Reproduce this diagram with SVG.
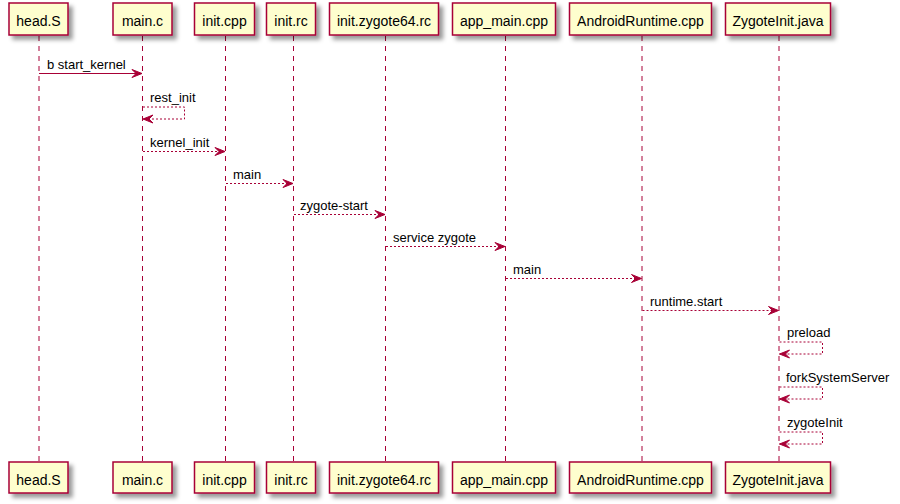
<svg xmlns="http://www.w3.org/2000/svg" width="900" height="504" viewBox="0 0 900 504">
<defs>
<filter id="sh" x="-1" y="-1" width="300%" height="300%">
<feGaussianBlur result="blur" stdDeviation="2"/>
<feColorMatrix type="matrix" in="blur" result="c" values="0 0 0 0 0  0 0 0 0 0  0 0 0 0 0  0 0 0 .4 0"/>
<feOffset result="o" in="c" dx="4" dy="4"/>
<feBlend in="SourceGraphic" in2="o" mode="normal"/>
</filter>
<marker id="ar" viewBox="-1 -1 12 10" refX="10" refY="4" markerWidth="12" markerHeight="10" markerUnits="userSpaceOnUse" orient="auto">
<polygon points="0,0 10,4 0,8 4,4" fill="#A80036" stroke="#A80036" stroke-width="1" stroke-dasharray="none"/>
</marker>
</defs>
<style>
.life{stroke:#A80036;stroke-width:1;stroke-dasharray:5,5;fill:none}
.box{fill:#FEFECE;stroke:#A80036;stroke-width:1.5;filter:url(#sh)}
.bt{font-family:"Liberation Sans",Arial,sans-serif;font-size:14px;fill:#000;text-anchor:middle}
.msg{stroke:#A80036;stroke-width:1;fill:none;marker-end:url(#ar)}
.d{stroke-dasharray:2,2}
.mt{font-family:"Liberation Sans",Arial,sans-serif;font-size:13px;fill:#000}
</style>
<rect width="900" height="504" fill="#FFFFFF"/>
<g id="lifelines">
<line class="life" x1="39" y1="36" x2="39" y2="462"/>
<line class="life" x1="142.5" y1="36" x2="142.5" y2="462"/>
<line class="life" x1="225.5" y1="36" x2="225.5" y2="462"/>
<line class="life" x1="293.5" y1="36" x2="293.5" y2="462"/>
<line class="life" x1="385.5" y1="36" x2="385.5" y2="462"/>
<line class="life" x1="505.5" y1="36" x2="505.5" y2="462"/>
<line class="life" x1="642" y1="36" x2="642" y2="462"/>
<line class="life" x1="779" y1="36" x2="779" y2="462"/>
</g>
<g id="head_S">
<rect class="box" x="9" y="3" width="59" height="32"/><text class="bt" x="38.5" y="25.5">head.S</text>
<rect class="box" x="9" y="462" width="59" height="31"/><text class="bt" x="38.5" y="484.5">head.S</text>
</g>
<g id="main_c">
<rect class="box" x="113" y="3" width="59" height="32"/><text class="bt" x="142.5" y="25.5">main.c</text>
<rect class="box" x="113" y="462" width="59" height="31"/><text class="bt" x="142.5" y="484.5">main.c</text>
</g>
<g id="init_cpp">
<rect class="box" x="194.5" y="3" width="60" height="32"/><text class="bt" x="224.5" y="25.5">init.cpp</text>
<rect class="box" x="194.5" y="462" width="60" height="31"/><text class="bt" x="224.5" y="484.5">init.cpp</text>
</g>
<g id="init_rc">
<rect class="box" x="266.5" y="3" width="49" height="32"/><text class="bt" x="291" y="25.5">init.rc</text>
<rect class="box" x="266.5" y="462" width="49" height="31"/><text class="bt" x="291" y="484.5">init.rc</text>
</g>
<g id="init_zygote64_rc">
<rect class="box" x="329.5" y="3" width="109" height="32"/><text class="bt" x="384" y="25.5">init.zygote64.rc</text>
<rect class="box" x="329.5" y="462" width="109" height="31"/><text class="bt" x="384" y="484.5">init.zygote64.rc</text>
</g>
<g id="app_main_cpp">
<rect class="box" x="452.5" y="3" width="103" height="32"/><text class="bt" x="504" y="25.5">app_main.cpp</text>
<rect class="box" x="452.5" y="462" width="103" height="31"/><text class="bt" x="504" y="484.5">app_main.cpp</text>
</g>
<g id="AndroidRuntime_cpp">
<rect class="box" x="569.5" y="3" width="142" height="32"/><text class="bt" x="640.5" y="25.5">AndroidRuntime.cpp</text>
<rect class="box" x="569.5" y="462" width="142" height="31"/><text class="bt" x="640.5" y="484.5">AndroidRuntime.cpp</text>
</g>
<g id="ZygoteInit_java">
<rect class="box" x="725.5" y="3" width="105" height="32"/><text class="bt" x="778" y="25.5">ZygoteInit.java</text>
<rect class="box" x="725.5" y="462" width="105" height="31"/><text class="bt" x="778" y="484.5">ZygoteInit.java</text>
</g>
<g id="connectors">
<line class="msg" x1="39" y1="73.5" x2="142" y2="73.5"/>
<text class="mt" x="47" y="69">b start_kernel</text>
<polyline class="msg d" points="143,107 184.5,107 184.5,119 143,119"/>
<text class="mt" x="150" y="102">rest_init</text>
<line class="msg d" x1="143" y1="151.5" x2="225" y2="151.5"/>
<text class="mt" x="150" y="147">kernel_init</text>
<line class="msg d" x1="226" y1="183.5" x2="293" y2="183.5"/>
<text class="mt" x="233" y="179">main</text>
<line class="msg d" x1="294" y1="214.5" x2="385" y2="214.5"/>
<text class="mt" x="300" y="210">zygote-start</text>
<line class="msg d" x1="386" y1="246.5" x2="505" y2="246.5"/>
<text class="mt" x="393" y="242">service zygote</text>
<line class="msg d" x1="506" y1="278.5" x2="641.5" y2="278.5"/>
<text class="mt" x="513" y="274">main</text>
<line class="msg d" x1="642.5" y1="310.5" x2="778.5" y2="310.5"/>
<text class="mt" x="650" y="306">runtime.start</text>
<polyline class="msg d" points="779.5,342 822.5,342 822.5,354 779.5,354"/>
<text class="mt" x="787" y="337">preload</text>
<polyline class="msg d" points="779.5,387 822.5,387 822.5,399 779.5,399"/>
<text class="mt" x="786" y="382">forkSystemServer</text>
<polyline class="msg d" points="779.5,432 822.5,432 822.5,444 779.5,444"/>
<text class="mt" x="787" y="427">zygoteInit</text>
</g>
</svg>
